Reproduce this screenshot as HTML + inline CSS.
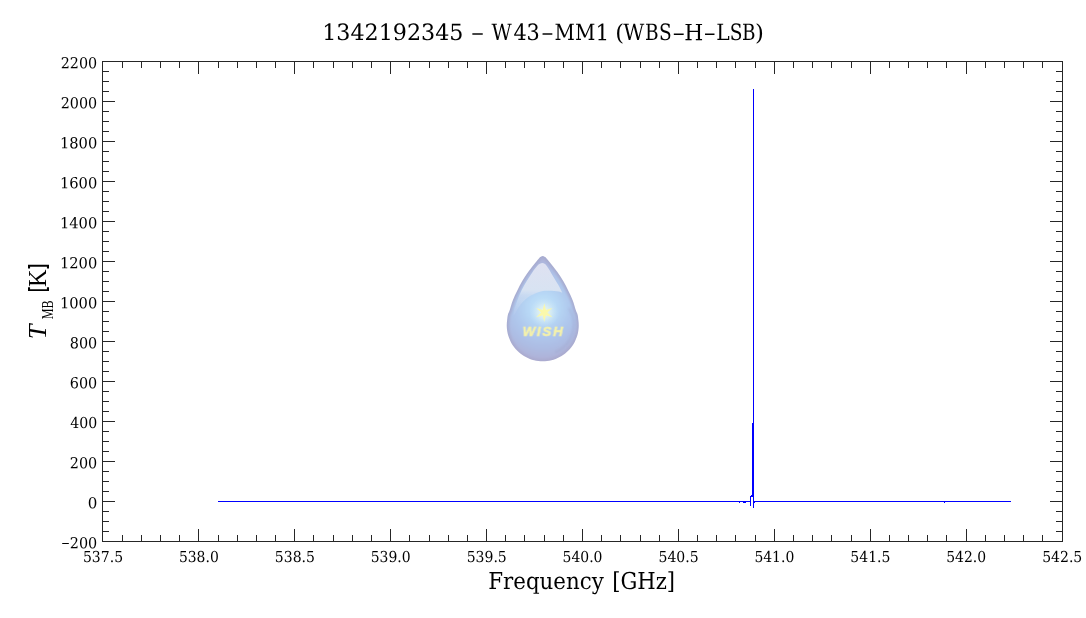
<!DOCTYPE html>
<html lang="en">
<head>
<meta charset="utf-8">
<title>1342192345 - W43-MM1 (WBS-H-LSB)</title>
<style>
html,body{margin:0;padding:0;background:#fff;}
body{width:1086px;height:618px;overflow:hidden;}
svg{display:block;}
.lb{font-family:"DejaVu Serif", "Liberation Serif", serif;fill:#000;}
.tk{font-size:14px;}
.tm{font-family:"Liberation Serif", serif;fill:#000;}
.ts{font-family:"Liberation Sans", sans-serif;fill:#000;}
.wish{font-family:"Liberation Sans",sans-serif;fill:#f6f2aa;stroke:#f6f2aa;stroke-width:0.45px;letter-spacing:1.6px;filter:url(#b2);}
</style>
</head>
<body>
<svg width="1086" height="618" viewBox="0 0 1086 618">
<defs>
<linearGradient id="rim" x1="0" y1="256" x2="0" y2="361" gradientUnits="userSpaceOnUse">
<stop offset="0" stop-color="#a8acd0"/>
<stop offset="0.6" stop-color="#a7aed3"/>
<stop offset="1" stop-color="#ababcf"/>
</linearGradient>
<radialGradient id="body" cx="543" cy="308" r="54" gradientUnits="userSpaceOnUse">
<stop offset="0" stop-color="#c6e5fa"/>
<stop offset="0.25" stop-color="#b8d9f6"/>
<stop offset="0.5" stop-color="#afc8ed"/>
<stop offset="0.75" stop-color="#adbce3"/>
<stop offset="1" stop-color="#b0afd4"/>
</radialGradient>
<linearGradient id="hl" x1="0" y1="262" x2="0" y2="312" gradientUnits="userSpaceOnUse">
<stop offset="0" stop-color="#dfe1f1"/>
<stop offset="0.56" stop-color="#d8e3f2"/>
<stop offset="0.68" stop-color="#d0def2" stop-opacity="0.7"/>
<stop offset="1" stop-color="#c6d8f2" stop-opacity="0.25"/>
</linearGradient>
<radialGradient id="glow" cx="544.3" cy="312.6" r="15" gradientUnits="userSpaceOnUse">
<stop offset="0" stop-color="#fbfcd8" stop-opacity="0.95"/>
<stop offset="0.45" stop-color="#e4f3f0" stop-opacity="0.6"/>
<stop offset="1" stop-color="#c6e5fa" stop-opacity="0"/>
</radialGradient>
<filter id="b3" x="-10%" y="-10%" width="120%" height="120%"><feGaussianBlur stdDeviation="1.3"/></filter>
<filter id="b1" x="-10%" y="-10%" width="120%" height="120%"><feGaussianBlur stdDeviation="0.65"/></filter>
<filter id="b2" x="-10%" y="-10%" width="120%" height="120%"><feGaussianBlur stdDeviation="0.45"/></filter>
</defs>
<rect width="1086" height="618" fill="#fff"/>

<g id="logo">
<path d="M542.75 256.10 C543.37 256.10 544.06 256.42 544.60 256.70 C545.14 256.98 545.22 256.97 546.00 257.80 C546.78 258.63 547.47 259.43 549.30 261.70 C551.13 263.97 554.67 268.17 557.00 271.40 C559.33 274.63 561.37 277.87 563.25 281.10 C565.13 284.33 566.72 287.57 568.30 290.80 C569.88 294.03 571.49 297.25 572.75 300.50 C574.01 303.75 575.04 307.93 575.85 310.30 C576.66 312.67 577.18 313.04 577.60 314.70 C578.02 316.36 578.21 318.63 578.40 320.29 C578.59 321.95 578.72 323.21 578.74 324.67 C578.77 326.13 578.71 327.61 578.55 329.06 C578.40 330.52 578.16 331.97 577.83 333.40 C577.50 334.82 577.08 336.24 576.58 337.61 C576.08 338.99 575.49 340.34 574.83 341.64 C574.16 342.95 573.41 344.22 572.60 345.43 C571.78 346.64 570.88 347.81 569.92 348.92 C568.96 350.02 567.93 351.07 566.84 352.05 C565.75 353.03 564.60 353.95 563.40 354.79 C562.20 355.63 560.94 356.40 559.65 357.09 C558.36 357.77 557.02 358.38 555.65 358.91 C554.29 359.43 552.88 359.88 551.46 360.23 C550.04 360.58 548.59 360.85 547.14 361.03 C545.69 361.21 544.21 361.30 542.75 361.30 C541.29 361.30 539.81 361.21 538.36 361.03 C536.91 360.85 535.46 360.58 534.04 360.23 C532.62 359.88 531.21 359.43 529.85 358.91 C528.48 358.38 527.14 357.77 525.85 357.09 C524.56 356.40 523.30 355.63 522.10 354.79 C520.90 353.95 519.75 353.03 518.66 352.05 C517.57 351.07 516.54 350.02 515.58 348.92 C514.62 347.81 513.72 346.64 512.90 345.43 C512.09 344.22 511.34 342.95 510.67 341.64 C510.01 340.34 509.42 338.99 508.92 337.61 C508.42 336.24 508.00 334.82 507.67 333.40 C507.34 331.97 507.10 330.52 506.95 329.06 C506.79 327.61 506.73 326.13 506.76 324.67 C506.78 323.21 506.91 321.95 507.10 320.29 C507.29 318.63 507.48 316.36 507.90 314.70 C508.32 313.04 508.84 312.67 509.65 310.30 C510.46 307.93 511.49 303.75 512.75 300.50 C514.01 297.25 515.62 294.03 517.20 290.80 C518.78 287.57 520.37 284.33 522.25 281.10 C524.13 277.87 526.17 274.63 528.50 271.40 C530.83 268.17 534.37 263.97 536.20 261.70 C538.03 259.43 538.72 258.63 539.50 257.80 C540.28 256.97 540.36 256.98 540.90 256.70 C541.44 256.42 542.13 256.10 542.75 256.10 Z" fill="url(#rim)" filter="url(#b1)"/>
<path d="M542.75 258.50 C543.00 258.50 543.24 258.67 543.49 258.83 C543.74 258.98 543.59 258.71 544.25 259.44 C544.91 260.17 545.63 260.98 547.43 263.21 C549.23 265.44 552.76 269.62 555.05 272.80 C557.34 275.98 559.33 279.13 561.18 282.31 C563.03 285.48 564.59 288.68 566.14 291.86 C567.70 295.03 569.27 298.16 570.51 301.37 C571.75 304.57 572.79 308.75 573.58 311.08 C574.37 313.40 574.87 313.71 575.27 315.29 C575.68 316.87 575.84 318.99 576.02 320.56 C576.19 322.13 576.32 323.34 576.34 324.71 C576.37 326.09 576.31 327.45 576.17 328.81 C576.02 330.17 575.80 331.53 575.49 332.86 C575.18 334.19 574.79 335.51 574.32 336.79 C573.86 338.07 573.31 339.34 572.69 340.55 C572.07 341.77 571.37 342.96 570.61 344.09 C569.84 345.22 569.00 346.31 568.11 347.34 C567.21 348.37 566.25 349.36 565.23 350.27 C564.22 351.18 563.14 352.04 562.02 352.82 C560.90 353.61 559.73 354.33 558.52 354.97 C557.32 355.61 556.07 356.18 554.79 356.67 C553.52 357.16 552.20 357.57 550.88 357.90 C549.55 358.23 548.20 358.48 546.84 358.65 C545.49 358.82 544.11 358.90 542.75 358.90 C541.39 358.90 540.01 358.82 538.66 358.65 C537.30 358.48 535.95 358.23 534.62 357.90 C533.30 357.57 531.98 357.16 530.71 356.67 C529.43 356.18 528.18 355.61 526.98 354.97 C525.77 354.33 524.60 353.61 523.48 352.82 C522.36 352.04 521.28 351.18 520.27 350.27 C519.25 349.36 518.29 348.37 517.39 347.34 C516.50 346.31 515.66 345.22 514.89 344.09 C514.13 342.96 513.43 341.77 512.81 340.55 C512.19 339.34 511.64 338.07 511.18 336.79 C510.71 335.51 510.32 334.19 510.01 332.86 C509.70 331.53 509.48 330.17 509.33 328.81 C509.19 327.45 509.13 326.09 509.16 324.71 C509.18 323.34 509.31 322.13 509.48 320.56 C509.66 318.99 509.82 316.87 510.23 315.29 C510.63 313.71 511.13 313.40 511.92 311.08 C512.71 308.75 513.75 304.57 514.99 301.37 C516.23 298.16 517.80 295.03 519.36 291.86 C520.91 288.68 522.47 285.48 524.32 282.31 C526.17 279.13 528.16 275.98 530.45 272.80 C532.74 269.62 536.27 265.44 538.07 263.21 C539.87 260.98 540.59 260.17 541.25 259.44 C541.91 258.71 541.76 258.98 542.01 258.83 C542.26 258.67 542.50 258.50 542.75 258.50 Z" fill="url(#body)" filter="url(#b3)"/>
<path d="M542.40 263.00 C544.02 263.00 545.10 263.83 546.80 265.90 C548.50 267.97 550.67 272.20 552.60 275.40 C554.53 278.60 556.78 282.22 558.40 285.10 C560.02 287.98 561.65 291.43 562.30 292.70 C561.65 292.48 560.50 291.72 558.40 291.40 C556.30 291.08 552.28 290.85 549.70 290.80 C547.12 290.75 545.33 290.67 542.90 291.10 C540.47 291.53 537.68 292.30 535.10 293.40 C532.52 294.50 529.82 295.85 527.40 297.70 C524.98 299.55 522.55 302.07 520.60 304.50 C518.65 306.93 516.87 310.47 515.70 312.30 C514.53 314.13 513.95 314.97 513.60 315.50 C513.65 314.75 513.52 312.83 513.90 311.00 C514.28 309.17 514.95 307.20 515.90 304.50 C516.85 301.80 518.18 298.03 519.60 294.80 C521.02 291.57 522.62 288.33 524.40 285.10 C526.18 281.87 528.18 278.60 530.30 275.40 C532.42 272.20 535.08 267.97 537.10 265.90 C539.12 263.83 540.78 263.00 542.40 263.00 Z" fill="url(#hl)" filter="url(#b2)"/>
<path d="M569.5 309 A30 30 0 0 1 556 352" fill="none" stroke="#9aa2c8" stroke-opacity="0.33" stroke-width="2.2" stroke-linecap="round" filter="url(#b3)"/>
<circle cx="544.3" cy="312.6" r="15" fill="url(#glow)"/>
<path d="M544.30 303.20 L545.85 309.92 L552.44 307.90 L547.40 312.60 L552.44 317.30 L545.85 315.28 L544.30 322.00 L542.75 315.28 L536.16 317.30 L541.20 312.60 L536.16 307.90 L542.75 309.92 Z" fill="#faf8ac" filter="url(#b1)"/>
</g>
<g stroke="#262626" stroke-width="1" fill="none" shape-rendering="crispEdges">
<rect x="102.5" y="61.5" width="960" height="480"/>
<path d="M102.5 541.5 v-13 M102.5 61.5 v12 M122.5 541.5 v-7 M122.5 61.5 v6 M141.5 541.5 v-7 M141.5 61.5 v6 M160.5 541.5 v-7 M160.5 61.5 v6 M179.5 541.5 v-7 M179.5 61.5 v6 M198.5 541.5 v-13 M198.5 61.5 v12 M218.5 541.5 v-7 M218.5 61.5 v6 M237.5 541.5 v-7 M237.5 61.5 v6 M256.5 541.5 v-7 M256.5 61.5 v6 M275.5 541.5 v-7 M275.5 61.5 v6 M294.5 541.5 v-13 M294.5 61.5 v12 M313.5 541.5 v-7 M313.5 61.5 v6 M333.5 541.5 v-7 M333.5 61.5 v6 M352.5 541.5 v-7 M352.5 61.5 v6 M371.5 541.5 v-7 M371.5 61.5 v6 M390.5 541.5 v-13 M390.5 61.5 v12 M409.5 541.5 v-7 M409.5 61.5 v6 M429.5 541.5 v-7 M429.5 61.5 v6 M448.5 541.5 v-7 M448.5 61.5 v6 M467.5 541.5 v-7 M467.5 61.5 v6 M486.5 541.5 v-13 M486.5 61.5 v12 M505.5 541.5 v-7 M505.5 61.5 v6 M524.5 541.5 v-7 M524.5 61.5 v6 M544.5 541.5 v-7 M544.5 61.5 v6 M563.5 541.5 v-7 M563.5 61.5 v6 M582.5 541.5 v-13 M582.5 61.5 v12 M601.5 541.5 v-7 M601.5 61.5 v6 M620.5 541.5 v-7 M620.5 61.5 v6 M640.5 541.5 v-7 M640.5 61.5 v6 M659.5 541.5 v-7 M659.5 61.5 v6 M678.5 541.5 v-13 M678.5 61.5 v12 M697.5 541.5 v-7 M697.5 61.5 v6 M716.5 541.5 v-7 M716.5 61.5 v6 M735.5 541.5 v-7 M735.5 61.5 v6 M755.5 541.5 v-7 M755.5 61.5 v6 M774.5 541.5 v-13 M774.5 61.5 v12 M793.5 541.5 v-7 M793.5 61.5 v6 M812.5 541.5 v-7 M812.5 61.5 v6 M831.5 541.5 v-7 M831.5 61.5 v6 M851.5 541.5 v-7 M851.5 61.5 v6 M870.5 541.5 v-13 M870.5 61.5 v12 M889.5 541.5 v-7 M889.5 61.5 v6 M908.5 541.5 v-7 M908.5 61.5 v6 M927.5 541.5 v-7 M927.5 61.5 v6 M946.5 541.5 v-7 M946.5 61.5 v6 M966.5 541.5 v-13 M966.5 61.5 v12 M985.5 541.5 v-7 M985.5 61.5 v6 M1004.5 541.5 v-7 M1004.5 61.5 v6 M1023.5 541.5 v-7 M1023.5 61.5 v6 M1042.5 541.5 v-7 M1042.5 61.5 v6 M1062.5 541.5 v-13 M1062.5 61.5 v12 M102.5 541.5 h12 M1062.5 541.5 h-13 M102.5 531.5 h6 M1062.5 531.5 h-7 M102.5 521.5 h6 M1062.5 521.5 h-7 M102.5 511.5 h6 M1062.5 511.5 h-7 M102.5 501.5 h12 M1062.5 501.5 h-13 M102.5 491.5 h6 M1062.5 491.5 h-7 M102.5 481.5 h6 M1062.5 481.5 h-7 M102.5 471.5 h6 M1062.5 471.5 h-7 M102.5 461.5 h12 M1062.5 461.5 h-13 M102.5 451.5 h6 M1062.5 451.5 h-7 M102.5 441.5 h6 M1062.5 441.5 h-7 M102.5 431.5 h6 M1062.5 431.5 h-7 M102.5 421.5 h12 M1062.5 421.5 h-13 M102.5 411.5 h6 M1062.5 411.5 h-7 M102.5 401.5 h6 M1062.5 401.5 h-7 M102.5 391.5 h6 M1062.5 391.5 h-7 M102.5 381.5 h12 M1062.5 381.5 h-13 M102.5 371.5 h6 M1062.5 371.5 h-7 M102.5 361.5 h6 M1062.5 361.5 h-7 M102.5 351.5 h6 M1062.5 351.5 h-7 M102.5 341.5 h12 M1062.5 341.5 h-13 M102.5 331.5 h6 M1062.5 331.5 h-7 M102.5 321.5 h6 M1062.5 321.5 h-7 M102.5 311.5 h6 M1062.5 311.5 h-7 M102.5 301.5 h12 M1062.5 301.5 h-13 M102.5 291.5 h6 M1062.5 291.5 h-7 M102.5 281.5 h6 M1062.5 281.5 h-7 M102.5 271.5 h6 M1062.5 271.5 h-7 M102.5 261.5 h12 M1062.5 261.5 h-13 M102.5 251.5 h6 M1062.5 251.5 h-7 M102.5 241.5 h6 M1062.5 241.5 h-7 M102.5 231.5 h6 M1062.5 231.5 h-7 M102.5 221.5 h12 M1062.5 221.5 h-13 M102.5 211.5 h6 M1062.5 211.5 h-7 M102.5 201.5 h6 M1062.5 201.5 h-7 M102.5 191.5 h6 M1062.5 191.5 h-7 M102.5 181.5 h12 M1062.5 181.5 h-13 M102.5 171.5 h6 M1062.5 171.5 h-7 M102.5 161.5 h6 M1062.5 161.5 h-7 M102.5 151.5 h6 M1062.5 151.5 h-7 M102.5 141.5 h12 M1062.5 141.5 h-13 M102.5 131.5 h6 M1062.5 131.5 h-7 M102.5 121.5 h6 M1062.5 121.5 h-7 M102.5 111.5 h6 M1062.5 111.5 h-7 M102.5 101.5 h12 M1062.5 101.5 h-13 M102.5 91.5 h6 M1062.5 91.5 h-7 M102.5 81.5 h6 M1062.5 81.5 h-7 M102.5 71.5 h6 M1062.5 71.5 h-7 M102.5 61.5 h12 M1062.5 61.5 h-13"/>
</g>
<g stroke="#0000ff" stroke-width="1" fill="none" shape-rendering="crispEdges">
<path d="M218 501.5 H751 M753 501.5 H1011"/>
<path d="M753.5 89 V508"/>
<path d="M752.5 423 V497 M751 495.5 h1"/>
<path d="M750.5 496 V506 M750 496.5 H753"/>
<path d="M739 502.5 h1 M743 502.5 h3 M754 502.5 h1 M944 502.5 h1"/>
</g>
<text class="lb" transform="translate(61.42 547.15) rotate(0.03)"><tspan x="0.00" y="0.00" font-size="14.000" textLength="8.05" lengthAdjust="spacingAndGlyphs">–</tspan><tspan x="8.38" y="1.19" font-size="15.185" textLength="27.48" lengthAdjust="spacingAndGlyphs">200</tspan></text>
<text class="lb" transform="translate(87.65 508.34) rotate(0.03)"><tspan x="0.00" y="0.00" font-size="15.185" textLength="9.61" lengthAdjust="spacingAndGlyphs">0</tspan></text>
<text class="lb" transform="translate(69.80 468.34) rotate(0.03)"><tspan x="0.00" y="0.00" font-size="15.185" textLength="27.48" lengthAdjust="spacingAndGlyphs">200</tspan></text>
<text class="lb" transform="translate(70.31 428.34) rotate(0.03)"><tspan x="0.00" y="0.00" font-size="15.185" textLength="26.96" lengthAdjust="spacingAndGlyphs">400</tspan></text>
<text class="lb" transform="translate(69.80 388.34) rotate(0.03)"><tspan x="0.00" y="0.00" font-size="15.185" textLength="27.48" lengthAdjust="spacingAndGlyphs">600</tspan></text>
<text class="lb" transform="translate(69.80 348.34) rotate(0.03)"><tspan x="0.00" y="0.00" font-size="15.185" textLength="27.48" lengthAdjust="spacingAndGlyphs">800</tspan></text>
<text class="lb" transform="translate(59.92 308.34) rotate(0.03)"><tspan x="0.00" y="0.00" font-size="15.185" textLength="37.29" lengthAdjust="spacingAndGlyphs">1000</tspan></text>
<text class="lb" transform="translate(59.92 268.34) rotate(0.03)"><tspan x="0.00" y="0.00" font-size="15.185" textLength="37.29" lengthAdjust="spacingAndGlyphs">1200</tspan></text>
<text class="lb" transform="translate(59.92 228.34) rotate(0.03)"><tspan x="0.00" y="0.00" font-size="15.185" textLength="37.29" lengthAdjust="spacingAndGlyphs">1400</tspan></text>
<text class="lb" transform="translate(59.92 188.34) rotate(0.03)"><tspan x="0.00" y="0.00" font-size="15.185" textLength="37.29" lengthAdjust="spacingAndGlyphs">1600</tspan></text>
<text class="lb" transform="translate(59.92 148.34) rotate(0.03)"><tspan x="0.00" y="0.00" font-size="15.185" textLength="37.29" lengthAdjust="spacingAndGlyphs">1800</tspan></text>
<text class="lb" transform="translate(60.70 108.34) rotate(0.03)"><tspan x="0.00" y="0.00" font-size="15.185" textLength="36.49" lengthAdjust="spacingAndGlyphs">2000</tspan></text>
<text class="lb" transform="translate(60.70 68.34) rotate(0.03)"><tspan x="0.00" y="0.00" font-size="15.185" textLength="36.49" lengthAdjust="spacingAndGlyphs">2200</tspan></text>
<text class="lb" transform="translate(82.95 562.13) rotate(0.03)"><tspan x="0.00" y="0.00" font-size="15.107" textLength="40.14" lengthAdjust="spacingAndGlyphs">537.5</tspan></text>
<text class="lb" transform="translate(178.88 562.13) rotate(0.03)"><tspan x="0.00" y="0.00" font-size="15.107" textLength="39.87" lengthAdjust="spacingAndGlyphs">538.0</tspan></text>
<text class="lb" transform="translate(274.79 562.13) rotate(0.03)"><tspan x="0.00" y="0.00" font-size="15.107" textLength="40.14" lengthAdjust="spacingAndGlyphs">538.5</tspan></text>
<text class="lb" transform="translate(370.72 562.13) rotate(0.03)"><tspan x="0.00" y="0.00" font-size="15.107" textLength="39.87" lengthAdjust="spacingAndGlyphs">539.0</tspan></text>
<text class="lb" transform="translate(466.63 562.13) rotate(0.03)"><tspan x="0.00" y="0.00" font-size="15.107" textLength="40.14" lengthAdjust="spacingAndGlyphs">539.5</tspan></text>
<text class="lb" transform="translate(562.56 562.13) rotate(0.03)"><tspan x="0.00" y="0.00" font-size="15.107" textLength="39.87" lengthAdjust="spacingAndGlyphs">540.0</tspan></text>
<text class="lb" transform="translate(658.47 562.13) rotate(0.03)"><tspan x="0.00" y="0.00" font-size="15.107" textLength="40.14" lengthAdjust="spacingAndGlyphs">540.5</tspan></text>
<text class="lb" transform="translate(754.40 562.13) rotate(0.03)"><tspan x="0.00" y="0.00" font-size="15.107" textLength="39.87" lengthAdjust="spacingAndGlyphs">541.0</tspan></text>
<text class="lb" transform="translate(850.31 562.13) rotate(0.03)"><tspan x="0.00" y="0.00" font-size="15.107" textLength="40.14" lengthAdjust="spacingAndGlyphs">541.5</tspan></text>
<text class="lb" transform="translate(946.24 562.13) rotate(0.03)"><tspan x="0.00" y="0.00" font-size="15.107" textLength="39.87" lengthAdjust="spacingAndGlyphs">542.0</tspan></text>
<text class="lb" transform="translate(1042.15 562.13) rotate(0.03)"><tspan x="0.00" y="0.00" font-size="15.107" textLength="40.14" lengthAdjust="spacingAndGlyphs">542.5</tspan></text>
<text class="lb" transform="translate(322.13 40.00) rotate(0.03)"><tspan x="0.00" y="0.00" font-size="22.440" textLength="141.36" lengthAdjust="spacingAndGlyphs">1342192345</tspan> <tspan x="149.18" y="0.00" font-size="22.440" textLength="12.59" lengthAdjust="spacingAndGlyphs">–</tspan> <tspan x="169.32" y="0.00" font-size="22.440" textLength="20.20" lengthAdjust="spacingAndGlyphs">W</tspan><tspan x="191.25" y="0.00" font-size="22.440" textLength="26.49" lengthAdjust="spacingAndGlyphs">43</tspan><tspan x="219.45" y="0.00" font-size="22.440" textLength="11.86" lengthAdjust="spacingAndGlyphs">–</tspan><tspan x="232.42" y="0.00" font-size="22.440" textLength="40.76" lengthAdjust="spacingAndGlyphs">MM</tspan><tspan x="273.28" y="0.00" font-size="22.440" textLength="13.67" lengthAdjust="spacingAndGlyphs">1</tspan> <tspan x="293.12" y="0.00" font-size="22.440" textLength="8.83" lengthAdjust="spacingAndGlyphs">(</tspan><tspan x="301.12" y="0.00" font-size="22.440" textLength="21.01" lengthAdjust="spacingAndGlyphs">W</tspan><tspan x="322.97" y="0.00" font-size="22.440" textLength="13.64" lengthAdjust="spacingAndGlyphs">B</tspan><tspan x="336.85" y="0.00" font-size="22.440" textLength="12.70" lengthAdjust="spacingAndGlyphs">S</tspan><tspan x="350.54" y="0.00" font-size="22.440" textLength="11.98" lengthAdjust="spacingAndGlyphs">–</tspan><tspan x="362.09" y="0.00" font-size="22.440" textLength="19.02" lengthAdjust="spacingAndGlyphs">H</tspan><tspan x="381.88" y="0.00" font-size="22.440" textLength="11.49" lengthAdjust="spacingAndGlyphs">–</tspan><tspan x="394.17" y="0.00" font-size="22.440" textLength="13.49" lengthAdjust="spacingAndGlyphs">L</tspan><tspan x="407.55" y="0.00" font-size="22.440" textLength="12.70" lengthAdjust="spacingAndGlyphs">S</tspan><tspan x="419.98" y="0.00" font-size="22.440" textLength="13.52" lengthAdjust="spacingAndGlyphs">B</tspan><tspan x="432.77" y="0.00" font-size="22.440" textLength="8.90" lengthAdjust="spacingAndGlyphs">)</tspan></text>
<text class="lb" transform="translate(488.19 589.10) rotate(0.03)"><tspan x="0.00" y="0.00" font-size="23.320" textLength="115.61" lengthAdjust="spacingAndGlyphs">Frequency</tspan> <tspan x="124.04" y="0.00" font-size="23.320" textLength="62.88" lengthAdjust="spacingAndGlyphs">[GHz]</tspan></text>
<text class="wish" transform="translate(522.60 335.90) rotate(0.03)"><tspan x="0.00" y="0.00" font-size="12.639" textLength="41.78" lengthAdjust="spacingAndGlyphs" font-style="italic" font-weight="bold">WISH</tspan></text>
<text class="tm" transform="translate(46.30 337.70) rotate(-90)"><tspan x="-1.64" y="0.00" font-size="25.295" textLength="14.61" lengthAdjust="spacingAndGlyphs" font-style="italic">T</tspan> <tspan x="18.38" y="6.20" font-size="15.916" textLength="18.99" lengthAdjust="spacingAndGlyphs">MB</tspan> <tspan x="46.07" y="-1.89" font-size="22.507" textLength="4.67" lengthAdjust="spacingAndGlyphs" font-family='"Liberation Sans", sans-serif' font-weight="bold">[</tspan><tspan x="50.64" y="0.00" font-size="25.448" textLength="17.54" lengthAdjust="spacingAndGlyphs">K</tspan><tspan x="68.95" y="-1.89" font-size="22.507" textLength="4.67" lengthAdjust="spacingAndGlyphs" font-family='"Liberation Sans", sans-serif' font-weight="bold">]</tspan></text>
</svg>
</body>
</html>
